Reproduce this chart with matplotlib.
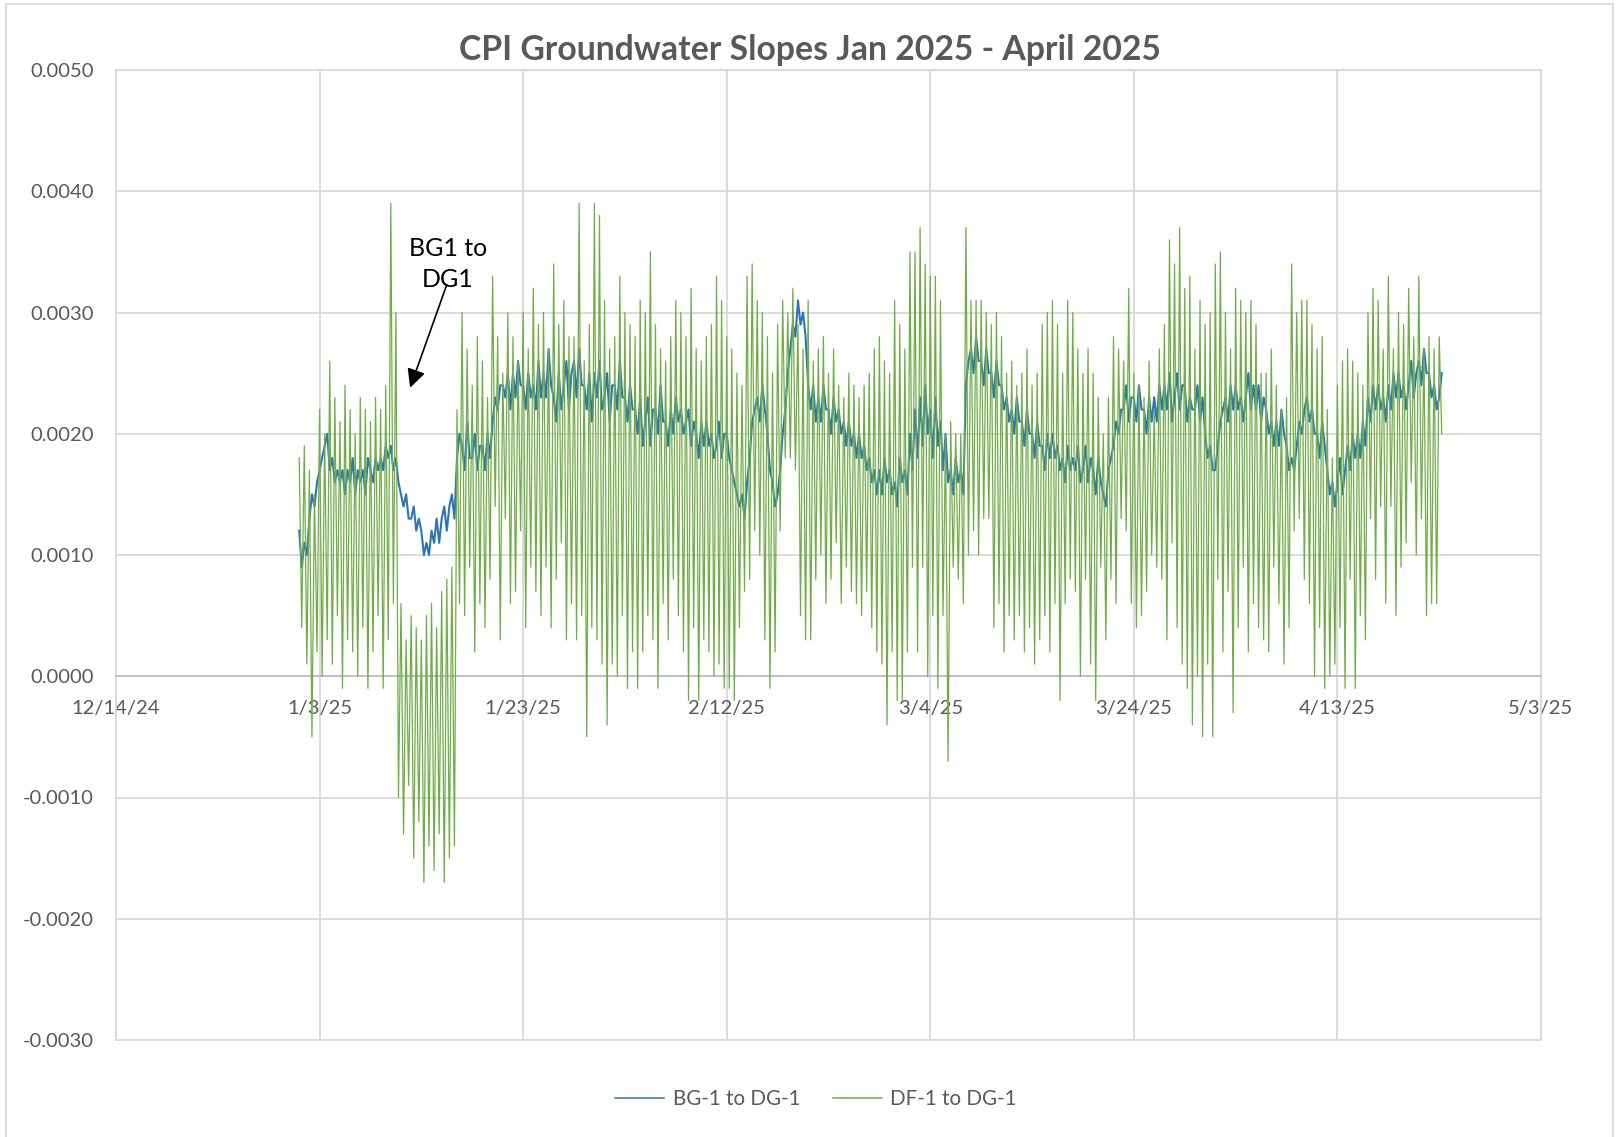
import matplotlib
matplotlib.use("Agg")
import matplotlib.pyplot as plt
import matplotlib.dates as mdates
import numpy as np
from datetime import datetime, timedelta
from matplotlib.patches import Rectangle

plt.rcParams['font.family'] = ['Lato', 'DejaVu Sans']

title = "CPI Groundwater Slopes Jan 2025 - April 2025"
series_names = ["BG-1 to DG-1", "DF-1 to DG-1"]
annotation_text = "BG1 to\nDG1"
x_tick_dates = [datetime(2024, 12, 14), datetime(2025, 1, 3), datetime(2025, 1, 23),
                datetime(2025, 2, 12), datetime(2025, 3, 4), datetime(2025, 3, 24),
                datetime(2025, 4, 13), datetime(2025, 5, 3)]
x_tick_labels = ["12/14/24", "1/3/25", "1/23/25", "2/12/25", "3/4/25", "3/24/25", "4/13/25", "5/3/25"]
y_ticks = [-0.003, -0.002, -0.001, 0.0, 0.001, 0.002, 0.003, 0.004, 0.005]

start_time = datetime(2025, 1, 1, 0, 0)
step_hours = 6
unit = 1e-4   # values below are in units of 0.0001

# BG-1 to DG-1, one reading every 6 hours (4 per day)
bg_values = [
    12, 9, 11, 10,  13, 15, 14, 16,  17, 18, 19, 20,  17, 18, 16, 17,  16, 17, 15, 17,
    16, 18, 15, 17,  16, 17, 15, 18,  17, 16, 18, 17,  18, 17, 19, 18,  19, 17, 18, 16,
    15, 14, 15, 13,  13, 14, 12, 13,  12, 10, 11, 10,  12, 11, 13, 11,  13, 14, 12, 14,
    15, 13, 18, 20,  19, 17, 21, 18,  18, 20, 17, 19,  19, 17, 20, 18,  21, 23, 22, 24,
    24, 23, 25, 22,  25, 23, 26, 24,  24, 22, 25, 23,  24, 22, 26, 23,  25, 23, 27, 24,
    23, 21, 25, 22,  24, 26, 22, 25,  26, 23, 27, 24,  24, 22, 25, 21,  25, 23, 26, 22,
    23, 25, 21, 24,  24, 22, 26, 23,  23, 21, 24, 22,  22, 20, 23, 19,  21, 23, 19, 22,
    22, 20, 24, 21,  21, 19, 22, 20,  23, 21, 22, 20,  21, 22, 19, 21,  20, 18, 21, 19,
    21, 19, 20, 18,  19, 21, 18, 20,  20, 18, 17, 16,  15, 14, 15, 13,  16, 18, 21, 22,
    23, 21, 24, 22,  20, 17, 16, 14,  15, 17, 20, 22,  25, 27, 29, 28,  31, 29, 30, 28,
    24, 22, 24, 21,  23, 21, 24, 22,  22, 20, 23, 21,  22, 20, 21, 19,  21, 19, 20, 18,
    20, 18, 19, 17,  18, 16, 17, 15,  17, 15, 18, 16,  17, 15, 16, 14,  18, 16, 17, 15,
    20, 17, 22, 18,  23, 19, 24, 20,  22, 18, 23, 19,  21, 17, 20, 16,  17, 15, 18, 16,
    17, 15, 24, 26,  27, 25, 28, 26,  26, 24, 27, 25,  25, 23, 26, 24,  24, 22, 23, 21,
    22, 20, 23, 21,  21, 19, 22, 20,  20, 18, 21, 19,  19, 17, 20, 18,  20, 18, 19, 17,
    18, 16, 19, 17,  18, 17, 19, 16,  17, 19, 16, 18,  17, 15, 18, 16,  15, 14, 17, 18,
    19, 21, 20, 22,  22, 24, 21, 23,  23, 21, 24, 22,  22, 20, 23, 21,  23, 21, 24, 22,
    24, 22, 25, 21,  23, 25, 22, 24,  24, 21, 23, 22,  22, 24, 21, 23,  20, 18, 19, 17,
    17, 19, 21, 22,  23, 21, 24, 22,  24, 22, 23, 21,  23, 25, 22, 24,  22, 24, 21, 23,
    22, 20, 21, 19,  21, 19, 22, 20,  19, 17, 18, 17,  19, 21, 20, 22,  23, 21, 22, 20,
    20, 18, 21, 19,  17, 15, 16, 14,  16, 18, 15, 17,  19, 17, 20, 18,  20, 18, 21, 19,
    23, 21, 24, 22,  24, 22, 23, 21,  24, 22, 25, 23,  25, 23, 24, 22,  24, 26, 23, 25,
    26, 24, 27, 25,  25, 23, 24, 22,  23, 25,
]

# DF-1 to DG-1 tidal highs (00h and 12h each day)
df_highs = [
    18, 19,  17, 15,  22, 20,  26, 23,  21, 24,  22, 20,  23, 22,  21, 23,  22, 24,  39, 30,
    6, 3,  5, 4,  3, 5,  6, 4,  7, 8,  9, 22,  30, 27,  24, 28,  26, 23,  33, 28,
    25, 30,  28, 26,  30, 27,  32, 29,  30, 27,  34, 29,  31, 28,  28, 39,  26, 29,  39, 38,
    31, 27,  28, 33,  30, 29,  28, 31,  30, 35,  29, 27,  26, 28,  31, 30,  28, 32,  27, 26,
    28, 29,  33, 31,  28, 27,  25, 24,  33, 34,  31, 30,  28, 25,  29, 31,  30, 32,  29, 27,
    31, 26,  27, 28,  25, 27,  24, 23,  25, 24,  23, 24,  25, 27,  28, 26,  25, 31,  29, 27,
    35, 35,  37, 34,  33, 33,  31, 20,  21, 20,  20, 37,  31, 31,  31, 30,  29, 30,  28, 25,
    26, 24,  25, 27,  24, 25,  29, 30,  31, 29,  25, 31,  30, 27,  25, 27,  25, 23,  20, 23,
    28, 27,  26, 32,  25, 24,  23, 26,  22, 27,  29, 36,  34, 37,  32, 33,  27, 31,  29, 30,
    34, 35,  30, 27,  32, 31,  30, 31,  29, 25,  25, 27,  24, 22,  23, 34,  30, 31,  31, 29,
    27, 28,  22, 18,  24, 26,  27, 26,  25, 24,  30, 32,  31, 27,  33, 27,  30, 29,  32, 28,
    33, 27,  28, 27,  28,
]

# DF-1 to DG-1 tidal lows (06h and 18h each day)
df_lows = [
    4, 1,  -5, 2,  0, 3,  1, 5,  -1, 3,  2, 0,  4, -1,  2, 5,  -1, 3,  6, -10,
    -13, -9,  -15, -12,  -17, -14,  -16, -13,  -17, -15,  -14, 6,  5, 9,  2, 6,  4, 8,  14, 3,
    13, 6,  7, 12,  4, 9,  7, 5,  9, 4,  8, 11,  3, 6,  3, 5,  -5, 4,  3, 1,
    -4, 1,  0, 5,  -1, 2,  -1, 2,  5, 3,  -1, 6,  3, 8,  5, 2,  -2, 4,  -2, 3,
    2, 0,  1, -1,  -1, -2,  4, 7,  8, 12,  10, 3,  -1, 2,  12, 18,  18, 17,  5, 3,
    3, 8,  10, 6,  8, 11,  6, 9,  7, 6,  5, 7,  4, 2,  1, -4,  2, -2,  -2, 2,
    9, 2,  9, 0,  5, -1,  5, -7,  9, 8,  6, 10,  12, 10,  13, 13,  4, 6,  2, 5,
    3, 5,  2, 4,  1, 3,  5, 2,  6, -2,  6, 8,  7, 0,  8, 1,  -2, 9,  3, 8,
    6, 13,  12, 6,  4, 5,  7, 10,  9, 8,  3, 11,  4, 1,  -1, -4,  0, -5,  1, -5,
    8, 2,  7, -3,  4, 9,  2, 6,  4, 3,  2, 9,  6, 1,  4, 12,  13, 8,  6, 0,
    4, -1,  0, 1,  4, -1,  8, -1,  5, 3,  13, 8,  14, 6,  14, 5,  9, 11,  16, 10,
    13, 5,  6, 6,  20,
]

# ---- build series ----
n = len(bg_values)
times = mdates.date2num([start_time + timedelta(hours=step_hours * k) for k in range(n)])
bg = np.array(bg_values, dtype=float) * unit
df = np.empty(len(df_highs) + len(df_lows))
df[0::2] = np.array(df_highs, dtype=float) * unit
df[1::2] = np.array(df_lows, dtype=float) * unit
t_df = times[:len(df)]

W, H = 1616, 1137
fig = plt.figure(figsize=(W / 100, H / 100), dpi=100)
fig.patch.set_facecolor('white')
fig.add_artist(Rectangle((6 / W, -0.01), 1607 / W, 1.01 - 4 / H, transform=fig.transFigure,
                         fill=False, edgecolor='#d9d9d9', lw=1.2))

ax = fig.add_axes([116 / W, 1 - 1040 / H, (1541 - 116) / W, (1040 - 70) / H])
grid_c = '#d9d9d9'
text_c = '#595959'

ax.plot(times, bg, color='#2E75B6', lw=1.5, zorder=3, label=series_names[0])
ax.plot(t_df, df, color='#70AD47', lw=0.9, zorder=4, label=series_names[1])

ax.set_xlim(mdates.date2num(x_tick_dates[0]), mdates.date2num(x_tick_dates[-1]))
ax.set_ylim(y_ticks[0], y_ticks[-1])
ax.set_xticks(mdates.date2num(x_tick_dates))
ax.set_xticklabels(x_tick_labels)
ax.set_yticks(y_ticks)
ax.set_yticklabels([f"{v:.4f}" for v in y_ticks])
ax.grid(True, color=grid_c, lw=1.3, zorder=0)
ax.set_axisbelow(True)
for s in ['left', 'right', 'top']:
    ax.spines[s].set_color(grid_c)
    ax.spines[s].set_linewidth(1.3)
ax.spines['bottom'].set_position(('data', 0))
ax.spines['bottom'].set_color('#bfbfbf')
ax.spines['bottom'].set_linewidth(1.3)
ax.axhline(y_ticks[0], color=grid_c, lw=1.3, clip_on=False, zorder=0)
ax.tick_params(axis='both', length=0, labelsize=14.5, labelcolor=text_c)
ax.tick_params(axis='x', pad=17)
ax.tick_params(axis='y', pad=16)

fig.text(810 / W, 1 - 50 / H, title, ha='center', va='center', fontsize=24.3,
         fontweight='bold', color=text_c)

# annotation
tip = (mdates.date2num(datetime(2025, 1, 11, 21, 30)), 0.00238)
tail = (mdates.date2num(datetime(2025, 1, 15, 12)), 0.00323)
ax.annotate('', xy=tip, xytext=tail,
            arrowprops=dict(arrowstyle='-|>', color='black', lw=1.2,
                            mutation_scale=28, shrinkA=0, shrinkB=0), zorder=6)
ax.text(mdates.date2num(datetime(2025, 1, 15, 14)), 0.00340, annotation_text,
        ha='center', va='center', fontsize=18, color='black', linespacing=1.45, zorder=7)

leg = fig.legend(loc='center', bbox_to_anchor=(816 / W, 1 - 1099 / H), ncol=2, frameon=False,
                 fontsize=14.8, labelcolor=text_c, handlelength=2.4, columnspacing=1.6,
                 handletextpad=0.4)
for line in leg.get_lines():
    line.set_linewidth(1.1)

fig.savefig('out.png', dpi=100)
